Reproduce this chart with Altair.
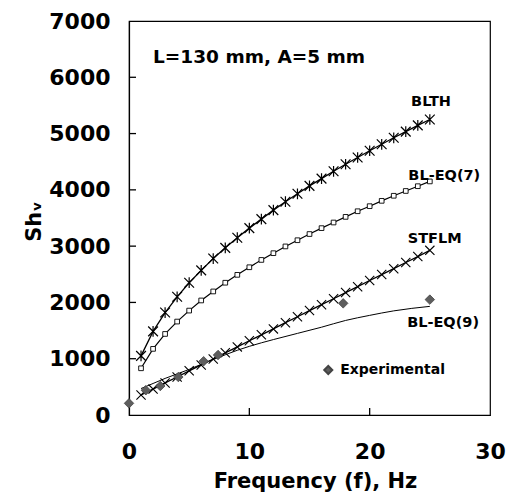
import altair as alt
import pandas as pd

# ---- data ----
freq = list(range(1, 26))
blth = [1050, 1485, 1820, 2100, 2350, 2570, 2780, 2970, 3150, 3320, 3480, 3640, 3790,
        3930, 4070, 4200, 4330, 4455, 4575, 4695, 4810, 4925, 5035, 5145, 5250]
bleq7 = [830, 1175, 1440, 1660, 1855, 2035, 2195, 2350, 2490, 2625, 2755, 2875, 2995,
         3105, 3215, 3320, 3420, 3520, 3620, 3710, 3805, 3895, 3980, 4065, 4150]
stflm = [355, 460, 570, 675, 785, 890, 995, 1105, 1210, 1320, 1425, 1530, 1640,
         1745, 1855, 1960, 2065, 2175, 2280, 2390, 2495, 2600, 2710, 2815, 2925]
eq9_f = [1, 2, 3, 4, 5, 6, 7, 8, 9, 10, 12, 14, 16, 18, 20, 22, 25]
eq9 = [470, 560, 650, 730, 810, 900, 985, 1070, 1150, 1220, 1340, 1450, 1560, 1680, 1770, 1850, 1930]
exp_f = [0, 1.4, 2.6, 4.1, 6.2, 7.4, 17.8, 25]
exp_sh = [207, 440, 515, 675, 955, 1066, 1984, 2050]

y_ticks = [0, 1000, 2000, 3000, 4000, 5000, 6000, 7000]
x_ticks = [0, 10, 20, 30]
y_inner_ticks = [1000, 2000, 3000, 4000, 5000, 6000]
x_inner_ticks = [10, 20]

label_text = ["BLTH", "BL-EQ(7)", "STFLM", "BL-EQ(9)"]
label_f = [25.1, 26.2, 25.4, 26.1]
label_sh = [5560, 4250, 3127, 1634]

FONT = "DejaVu Sans"

d_blth = pd.DataFrame({"f": freq, "sh": blth})
d_eq7 = pd.DataFrame({"f": freq, "sh": bleq7})
d_st = pd.DataFrame({"f": freq, "sh": stflm})
d_eq9 = pd.DataFrame({"f": eq9_f, "sh": eq9})
d_exp = pd.DataFrame({"f": exp_f, "sh": exp_sh})
d_lab = pd.DataFrame({"f": label_f, "sh": label_sh, "t": label_text})
d_yt = pd.DataFrame({"sh": y_inner_ticks, "f": [0] * len(y_inner_ticks)})
d_xt = pd.DataFrame({"f": x_inner_ticks, "sh": [0] * len(x_inner_ticks)})

xs = alt.Scale(domain=[0, 30], nice=False, zero=False)
ys = alt.Scale(domain=[0, 7000], nice=False)

xax = alt.Axis(values=x_ticks, format="d", title="Frequency (f), Hz", ticks=False, tickSize=0, grid=False,
               labelPadding=26, titleY=72, titleX=186, titleBaseline="alphabetic",
               labelFlush=False)
yax = alt.Axis(values=y_ticks, format="d", title="Shᵥ", ticks=False, tickSize=0, grid=False,
               labelPadding=19, titleX=-89, titleY=200, titleBaseline="alphabetic",
               labelFlush=False)

X = alt.X("f:Q", scale=xs, axis=xax)
Y = alt.Y("sh:Q", scale=ys, axis=yax)

asterisk = "M-1,-1L1,1M-1,1L1,-1M0,-1.1L0,1.1"
cross = "M-1,-1L1,1M-1,1L1,-1"

base_blth = alt.Chart(d_blth)
l_blth = base_blth.mark_line(color="black", strokeWidth=1.3).encode(X, Y)
p_blth = base_blth.mark_point(shape=asterisk, size=95, color="black", strokeWidth=1.2,
                              filled=False, opacity=1).encode(X, Y)

base_eq7 = alt.Chart(d_eq7)
l_eq7 = base_eq7.mark_line(color="black", strokeWidth=1.2).encode(X, Y)
p_eq7 = base_eq7.mark_point(shape="square", size=22, fill="white", stroke="black",
                            strokeWidth=0.9, filled=True, opacity=1).encode(X, Y)

base_st = alt.Chart(d_st)
l_st = base_st.mark_line(color="black", strokeWidth=1.3).encode(X, Y)
p_st = base_st.mark_point(shape=cross, size=85, color="black", strokeWidth=1.1,
                          filled=False, opacity=1).encode(X, Y)

l_eq9 = alt.Chart(d_eq9).mark_line(color="black", strokeWidth=1.0, interpolate="monotone").encode(X, Y)

p_exp = alt.Chart(d_exp).mark_point(shape="diamond", size=90, fill="#5e5e5e", stroke="#444444",
                                    strokeWidth=0.8, filled=True, opacity=1).encode(X, Y)

t_lab = alt.Chart(d_lab).mark_text(font=FONT, fontWeight="bold", fontSize=14.5, color="black",
                                   align="center", baseline="middle").encode(X, Y, text="t:N")

d_leg = pd.DataFrame({"f": [16.56], "sh": [800], "t": ["Experimental"]})
d_leg_t = pd.DataFrame({"f": [17.55], "sh": [800], "t": ["Experimental"]})
p_leg = alt.Chart(d_leg).mark_point(shape="diamond", size=65, fill="#5e5e5e", stroke="#444444",
                                    filled=True, opacity=1).encode(X, Y)
t_leg = alt.Chart(d_leg_t).mark_text(font=FONT, fontWeight="bold", fontSize=14, color="black",
                                     align="left", baseline="middle").encode(X, Y, text="t:N")

d_cond = pd.DataFrame({"f": [2.0], "sh": [6360], "t": ["L=130 mm, A=5 mm"]})
t_cond = alt.Chart(d_cond).mark_text(font=FONT, fontWeight="bold", fontSize=18.5, color="black",
                                     align="left", baseline="middle").encode(X, Y, text="t:N")

# inward tick marks, positioned through the shared scales, shifted to sit inside the frame
r_y = alt.Chart(d_yt).mark_tick(color="black", orient="horizontal", size=7, thickness=1.3,
                                opacity=1, xOffset=3.5).encode(X, Y)
r_x = alt.Chart(d_xt).mark_tick(color="black", orient="vertical", size=7, thickness=1.3,
                                opacity=1, yOffset=-3.5).encode(X, Y)

chart = alt.layer(
    l_blth, l_eq7, l_st, l_eq9, p_blth, p_eq7, p_st, p_exp, t_lab, p_leg, t_leg, t_cond, r_y, r_x
).properties(
    width=361, height=394,
    autosize=alt.AutoSizeParams(type="none"),
    padding={"left": 129, "top": 21, "right": 22, "bottom": 86},
    background="white",
).configure_view(
    stroke="black", strokeWidth=1.2
).configure_axis(
    domainColor="black", domainWidth=1.2,
    labelFont=FONT, labelFontWeight="bold", labelFontSize=22, labelColor="black",
    titleFont=FONT, titleFontWeight="bold", titleFontSize=21, titleColor="black",
)

chart.save("out.html", embed_options={"renderer": "svg", "actions": False})
